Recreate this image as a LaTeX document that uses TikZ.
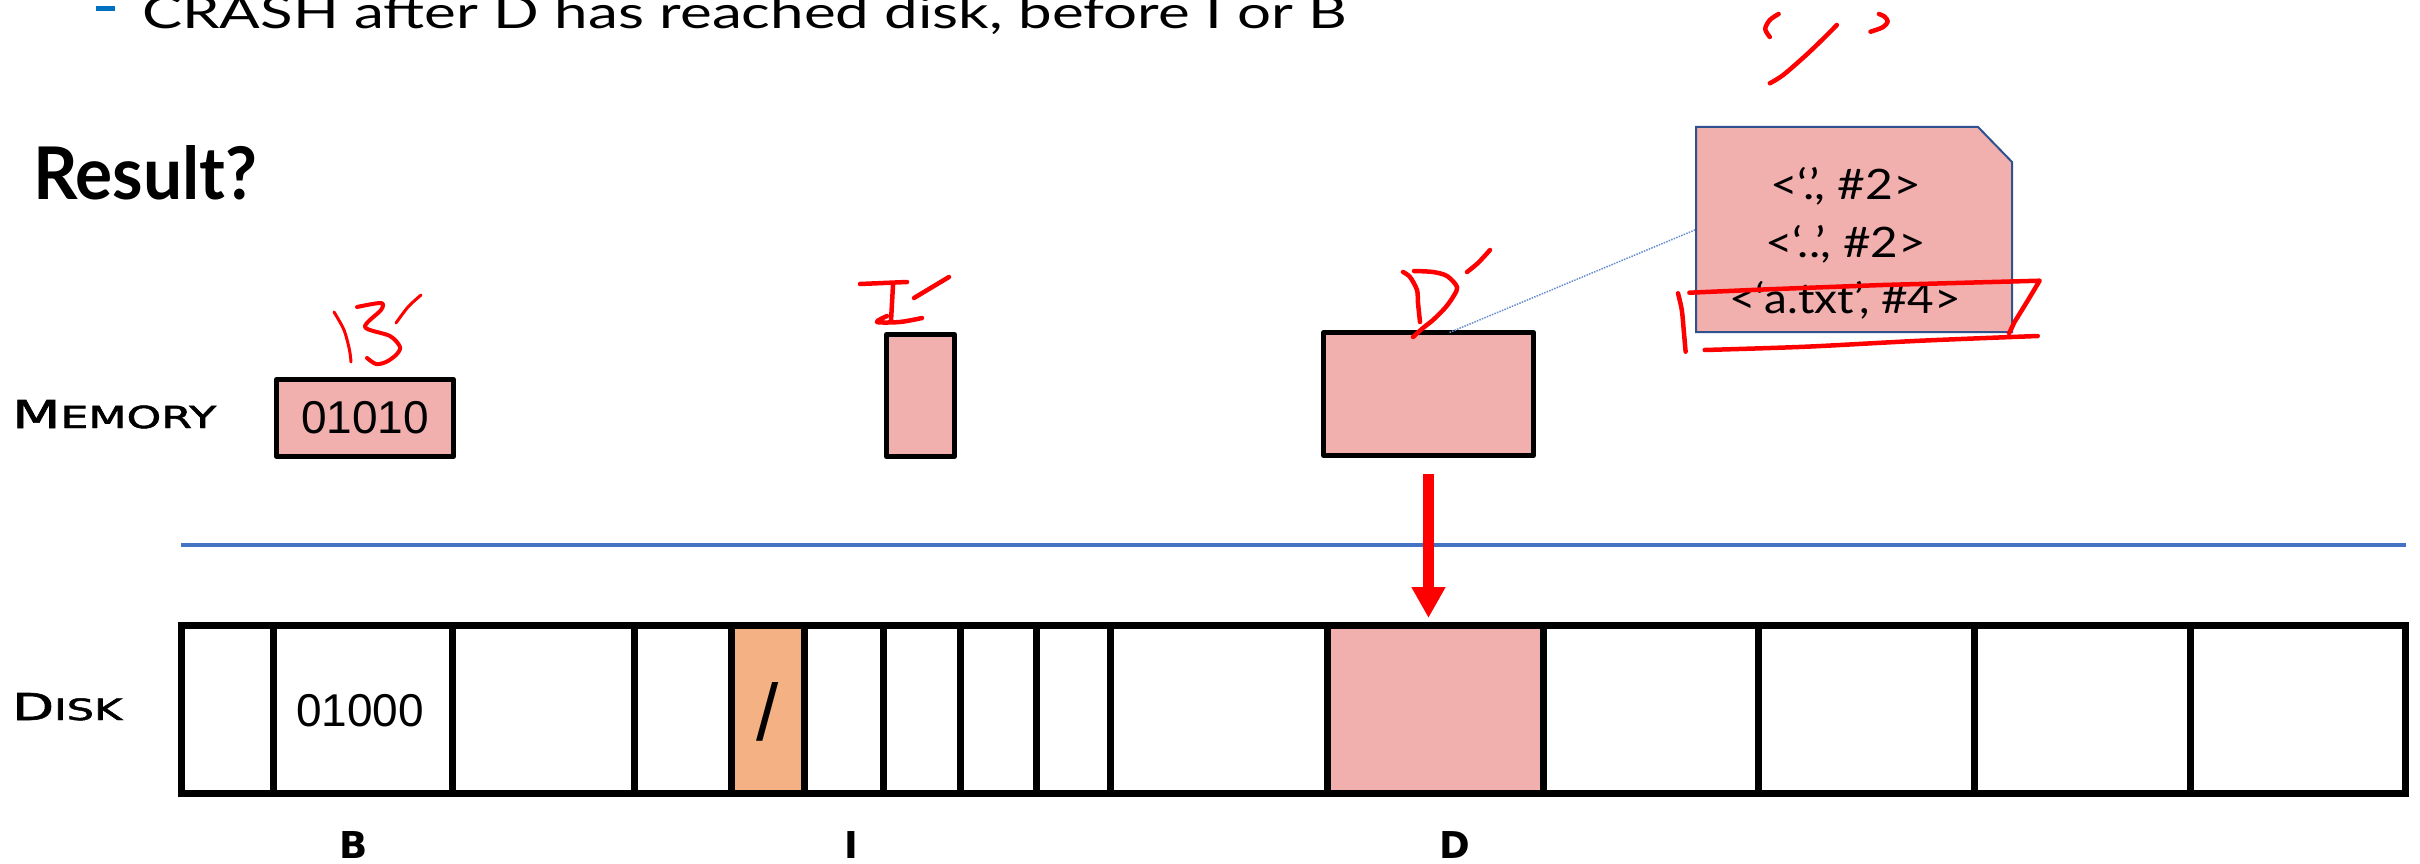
\documentclass[tikz,border=0pt]{standalone}
\usepackage{graphicx}
\usepackage{fontspec}
\setmainfont{Lato}
\newfontfamily\digitfont{Liberation Sans}
\newfontfamily\capsfont{DejaVu Sans}
\newfontfamily\rowfont[FakeBold=1.6]{DejaVu Sans}
\usetikzlibrary{arrows.meta,calc}

\definecolor{blockpink}{RGB}{241,175,174}
\definecolor{blockorange}{RGB}{244,177,131}
\definecolor{sepblue}{RGB}{68,114,196}
\definecolor{calloutblue}{RGB}{47,82,143}
\definecolor{bulletblue}{RGB}{0,112,192}
\definecolor{penred}{RGB}{255,0,0}

\tikzset{
  memblock/.style={draw=black, line width=5pt, fill=blockpink, line join=round,
    inner sep=0pt, outer sep=0pt},
  diskcell/.style={draw=black, line width=7pt, inner sep=0pt, outer sep=0pt,
    minimum height=168pt},
  rowlabel/.style={anchor=base west, inner sep=0pt},
  blocklabel/.style={anchor=base, inner sep=0pt, font=\capsfont\bfseries\fontsize{37}{40}\selectfont},
  bits/.style={inner sep=0pt, font=\digitfont\fontsize{46}{50}\selectfont},
  dirline/.style={anchor=base, inner sep=0pt, font=\fontsize{42}{46}\selectfont},
  pen/.style={draw=penred, line width=4.5pt, line cap=round, line join=round},
  writearrow/.style={draw=penred, line width=11pt, -{Triangle[width=32pt,length=31pt]}},
  leader/.style={draw=sepblue!80, line width=1.5pt, dash pattern=on 1.5pt off 1.2pt}
}

\begin{document}
\begin{tikzpicture}[x=1pt,y=-1pt]
\useasboundingbox (0,0) rectangle (2420,864);
\clip (0,0) rectangle (2420,864);
\fill[white] (0,0) rectangle (2420,864);

% heading bullet and question
\fill[bulletblue] (96,6) rectangle (115,11);
\node[anchor=base west, inner sep=0pt] (crash) at (142,29)
  {\resizebox{1205pt}{33pt}{CRASH after D has reached disk, before I or B}};
\node[anchor=base west, inner sep=0pt] (result) at (33,200)
  {\resizebox{224pt}{54pt}{\bfseries Result?}};

% row labels
\node[rowlabel] (memlabel) at (12,428)
  {\resizebox{204pt}{28pt}{\rowfont\fontsize{38}{40}\selectfont M\fontsize{30}{32}\selectfont EMORY}};
\node[rowlabel] (disklabel) at (12,720)
  {\resizebox{110pt}{27pt}{\rowfont\fontsize{38}{40}\selectfont D\fontsize{30}{32}\selectfont ISK}};

% blocks held in memory
\node[memblock, minimum width=177pt, minimum height=77pt] (bmem) at (365,418)
  {\digitfont\fontsize{46}{50}\selectfont 01010};
\node[memblock, minimum width=68pt, minimum height=122pt] (imem) at (920.5,395.5) {};
\node[memblock, minimum width=210pt, minimum height=123pt] (dmem) at (1428.5,394) {};

% memory / disk boundary
\draw[sepblue, line width=4pt] (181,545) -- (2406,545);

% disk blocks
\foreach \l/\r/\n/\c in {181.5/273/1/white, 273/452/2/white, 452/634/3/white,
    634/731/4/white, 731/804/5/blockorange, 804/883/6/white, 883/960/7/white,
    960/1036/8/white, 1036/1110/9/white, 1110/1327/10/white, 1327/1543/11/blockpink,
    1543/1758/12/white, 1758/1974/13/white, 1974/2190/14/white, 2190/2405.5/15/white}
  \node[diskcell, fill=\c, minimum width={(\r-\l)*1pt}] (c\n) at ({(\l+\r)/2},709.5) {};

\node[bits] (bdisk) at ($(c2.center)+(-2.5,1.5)$) {01000};
\node[inner sep=0pt, font=\digitfont\fontsize{80}{90}\selectfont] (slash) at ($(c5.center)+(0,2)$) {/};

% block names under the disk
\node[blocklabel] (lb) at (354,858) {B};
\node[blocklabel] (li) at (851,858) {I};
\node[blocklabel] (ld) at (1455,858) {D};

% D written from memory to disk
\draw[writearrow, shorten <=18.5pt, shorten >=7.5pt] (dmem.south) -- (dmem.south |- c11.north);

% directory contents of D
\node[minimum width=316pt, minimum height=205pt, inner sep=0pt, outer sep=0pt] (dirbox) at (1854,229.5) {};
\draw[leader] ($(dmem.north west)!0.6!(dmem.north east)$) -- (dirbox.west);
\filldraw[fill=blockpink, draw=calloutblue, line width=2pt]
  (dirbox.north west) -- ($(dirbox.north east)+(-34,0)$) -- ($(dirbox.north east)+(0,35)$)
  -- (dirbox.south east) -- (dirbox.south west) -- cycle;
\node[dirline] (dl1) at (1845.5,199) {\resizebox{151pt}{\height}{<‘.’, \#2>}};
\node[dirline] (dl2) at (1845.5,257) {\resizebox{161pt}{\height}{<‘..’, \#2>}};
\node[dirline] (dl3) at (1845,313) {\resizebox{232pt}{\height}{<‘a.txt’, \#4>}};

% handwritten annotations
% B'
\draw[pen, line width=3pt] plot[smooth] coordinates {(334,312) (344,330) (349.5,350) (351,362)};
\draw[pen, line width=4pt] plot[smooth, tension=0.5] coordinates {(357,307) (381,303) (381,310) (365,327) (390,336) (400,347) (396,355) (386,362) (376,364) (367,358)};
\draw[pen, line width=3pt] plot[smooth] coordinates {(421,295) (408,307) (396,323)};
% I'
\draw[pen] (860,284) -- (907,282);
\draw[pen] (893,285) -- (891,321);
\draw[pen] plot[smooth] coordinates {(887,316) (877,322) (900,322) (922,318)};
\draw[pen] (949,277) -- (914,298);
% D'
\draw[pen] plot[smooth] coordinates {(1403,272) (1410,277) (1417,290) (1418,303) (1420,322)};
\draw[pen] plot[smooth] coordinates {(1414,271) (1433,272) (1447,276) (1457,287) (1453,297) (1445,308) (1433,320) (1423,328) (1413,337)};
\draw[pen] plot[smooth] coordinates {(1467,272) (1478,263) (1490,250)};
% '/' above the directory
\draw[pen] plot[smooth] coordinates {(1778.6,14) (1769.8,20) (1765.2,29) (1769.8,37)};
\draw[pen] plot[smooth] coordinates {(1836.8,25) (1825.3,36.7) (1806.2,55) (1783.2,75) (1769.8,83.3)};
\draw[pen] plot[smooth] coordinates {(1878.9,14) (1884.6,16.7) (1887.7,21.7) (1882.7,27.3) (1870.5,31.7)};
% struck-out entry
\draw[pen] plot[smooth] coordinates {(1678,293.3) (1681.8,310) (1683.7,330) (1685.6,351.7)};
\draw[pen] (1689.4,292.7) -- (1767.9,289.3) -- (1882.7,285) -- (2039.6,280.7)
  -- (2028.1,300) -- (2014.7,321.7) -- (2009,333.3);
\draw[pen] plot[smooth] coordinates {(1704.7,350) (1806.2,346.7) (1921,340.7) (2037.7,336)};
\end{tikzpicture}
\end{document}
